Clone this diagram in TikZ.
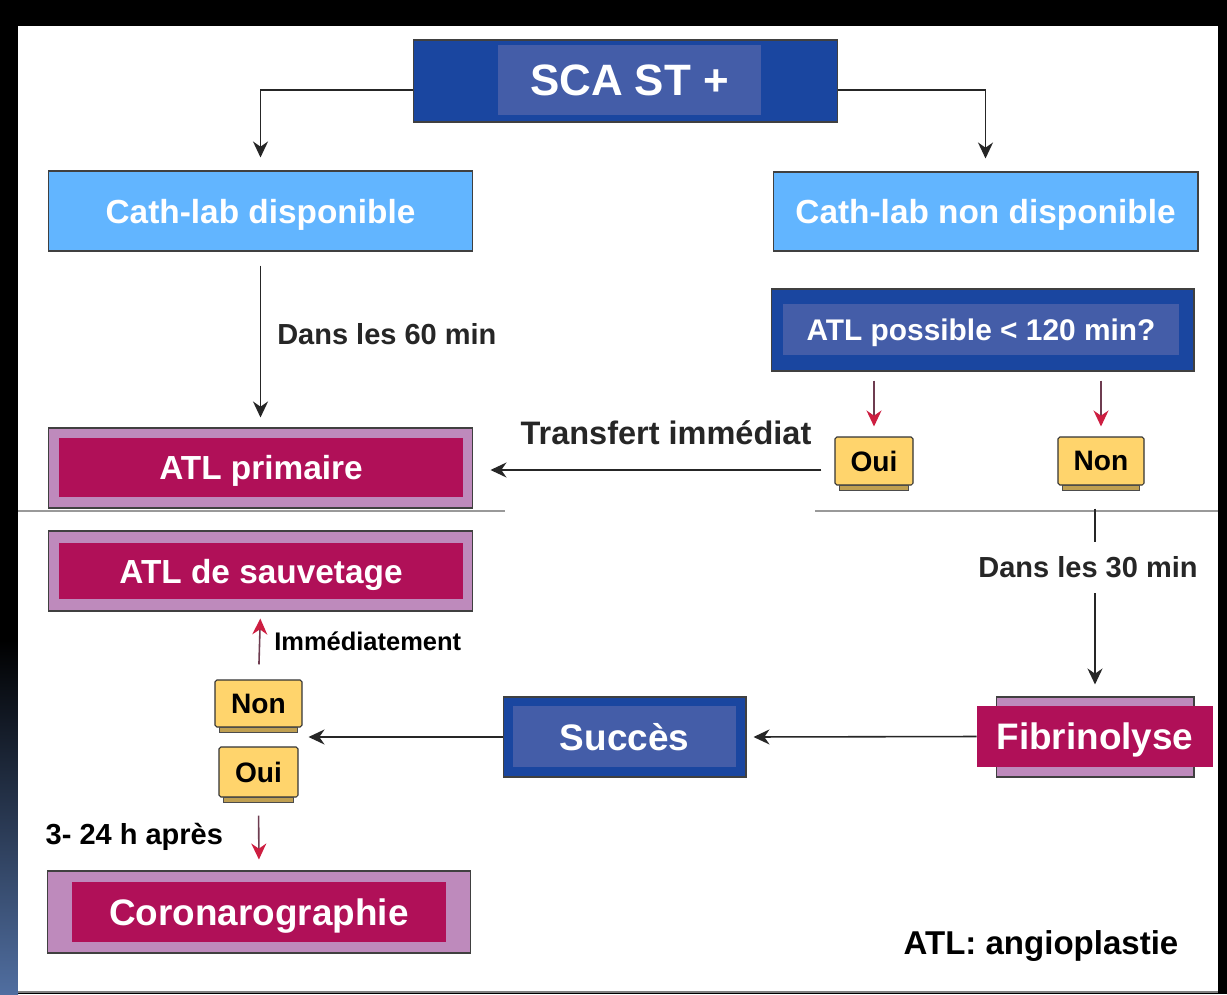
\documentclass[tikz,border=0pt]{standalone}
\usepackage{fontspec}
\setmainfont{Liberation Sans}
\usetikzlibrary{arrows.meta}
\definecolor{navyout}{RGB}{26,70,160}
\definecolor{navyin}{RGB}{68,93,168}
\definecolor{skyfill}{RGB}{98,181,255}
\definecolor{lilac}{RGB}{190,138,188}
\definecolor{berry}{RGB}{176,16,88}
\definecolor{cheese}{RGB}{255,212,108}
\definecolor{tipred}{RGB}{205,30,65}
\definecolor{shaftred}{RGB}{110,60,80}
\definecolor{leftblue}{RGB}{80,110,160}
\newcommand{\fsz}[1]{\fontsize{#1}{#1}\selectfont}

\begin{document}
\begin{tikzpicture}[x=0.02cm, y=-0.02cm]
        \tikzstyle{every node}=[font=\bfseries, inner sep=0pt, text depth=0pt]
        \tikzstyle{outbox}=[draw=black!75, line width=0.6pt]
        \tikzstyle{navyouter}=[outbox, fill=navyout]
        \tikzstyle{navyinner}=[fill=navyin, text=white]
        \tikzstyle{skybox}=[outbox, fill=skyfill, text=white, font=\bfseries\fsz{19}]
        \tikzstyle{lilacbox}=[outbox, fill=lilac]
        \tikzstyle{berrybox}=[fill=berry, text=white]
        \tikzstyle{cheesebox}=[draw=black!80, fill=cheese, line width=0.6pt, rounded corners=1pt, font=\bfseries\fsz{16}]
        \tikzstyle{arr}=[-{Stealth[length=0.32cm, width=0.3cm]}, line width=0.9pt, black!85]
        \tikzstyle{redarr}=[-{Stealth[length=0.32cm, width=0.3cm, color=tipred]}, line width=0.9pt, draw=shaftred]
        \tikzstyle{lbl}=[font=\bfseries\fsz{16.5}]

        \useasboundingbox (0,0) rectangle (1227,994);
        \fill[black] (0,0) rectangle (1227,994);
        \shade[top color=black, bottom color=leftblue] (0,640) rectangle (18,994);
        \fill[white] (18,26) rectangle (1218,991);
        \draw[gray, line width=0.8pt] (18,992) -- (1218,992);

        \node[navyouter, minimum width=8.5cm, minimum height=1.64cm] (ScaSt) at (625.5,81) {};
        \node[navyinner, minimum width=5.26cm, minimum height=1.4cm, font=\bfseries\fsz{25}] (ScaStText) at (629.5,80) {SCA ST +};

        \node[skybox, minimum width=8.5cm, minimum height=1.6cm] (CathLabDispo) at (260.5,211) {Cath-lab disponible};
        \node[skybox, minimum width=8.5cm, minimum height=1.58cm] (CathLabNonDispo) at (985.5,211.5) {Cath-lab non disponible};

        \node[navyouter, minimum width=8.46cm, minimum height=1.64cm] (AtlPossible) at (982.5,330) {};
        \node[navyinner, minimum width=7.92cm, minimum height=1.02cm, font=\bfseries\fsz{17}] (AtlPossibleText) at (981,329.5) {ATL possible < 120 min?};

        \node[cheesebox, minimum width=1.56cm, minimum height=0.96cm] (OuiTransfert) at (874,461) {Oui};
        \node[cheesebox, minimum width=1.72cm, minimum height=0.96cm] (NonTransfert) at (1101,461) {Non};
        \node[cheesebox, minimum width=1.74cm, minimum height=0.94cm] (NonSucces) at (258.5,703.5) {Non};
        \node[cheesebox, minimum width=1.58cm, minimum height=1.0cm] (OuiSucces) at (258.5,772) {Oui};
        \foreach \n in {OuiTransfert,NonTransfert,NonSucces,OuiSucces}
            \draw[fill=cheese!75!black, draw=black!70, line width=0.5pt] ([xshift=0.1cm]\n.south west) rectangle ([xshift=-0.1cm, yshift=-0.1cm]\n.south east);

        \node[lilacbox, minimum width=8.5cm, minimum height=1.6cm] (AtlPrimaire) at (260.5,468) {};
        \node[berrybox, minimum width=8.08cm, minimum height=1.18cm, font=\bfseries\fsz{19}] (AtlPrimaireText) at (261,467.5) {ATL primaire};
        \node[lilacbox, minimum width=8.5cm, minimum height=1.6cm] (AtlSauvetage) at (260.5,571) {};
        \node[berrybox, minimum width=8.08cm, minimum height=1.12cm, font=\bfseries\fsz{19}] (AtlSauvetageText) at (261,571) {ATL de sauvetage};
        \node[lilacbox, minimum width=8.48cm, minimum height=1.64cm] (Coronarographie) at (259,912) {};
        \node[berrybox, minimum width=7.48cm, minimum height=1.2cm, font=\bfseries\fsz{21}] (CoronarographieText) at (259,912) {Coronarographie};

        \node[navyouter, minimum width=4.86cm, minimum height=1.6cm] (Succes) at (624.5,737) {};
        \node[navyinner, minimum width=4.46cm, minimum height=1.22cm, font=\bfseries\fsz{21}] (SuccesText) at (624.5,736.5) {Succès};
        \node[lilacbox, minimum width=3.96cm, minimum height=1.6cm] (FibrinolyseBg) at (1095,737) {};
        \node[berrybox, minimum width=4.72cm, minimum height=1.22cm, font=\bfseries\fsz{21}] (Fibrinolyse) at (1095,736.5) {Fibrinolyse};

        \draw[gray!80, line width=0.6pt] (18,511) -- (505,511);
        \draw[gray!80, line width=0.6pt] (815,511) -- (1218,511);

        \draw[arr] ([yshift=-0.18cm]ScaSt.west) -| ([yshift=0.26cm]CathLabDispo.north);
        \draw[arr] ([yshift=-0.18cm]ScaSt.east) -| ([yshift=0.26cm]CathLabNonDispo.north);
        \draw[arr, shorten <=0.28cm, shorten >=0.2cm] (CathLabDispo) -- node[right=0.32cm, yshift=0.12cm, lbl] (Dans60) {Dans les 60 min} (AtlPrimaire);
        \draw[redarr] ([yshift=-0.18cm]AtlPossible.south -| OuiTransfert.north) -- ([yshift=0.2cm]OuiTransfert.north);
        \draw[redarr] ([yshift=-0.18cm]AtlPossible.south -| NonTransfert.north) -- ([yshift=0.2cm]NonTransfert.north);
        \draw[arr, shorten <=0.26cm, shorten >=0.34cm] ([yshift=-0.18cm]OuiTransfert.west) -- node[above=0.5cm, xshift=0.24cm, font=\bfseries\fsz{18.5}] (Transfert) {Transfert immédiat} ([yshift=-0.18cm]OuiTransfert.west -| AtlPrimaire.east);
        \draw[arr, shorten <=0.46cm, shorten >=0.24cm] (NonTransfert.south -| Fibrinolyse.north) -- node[pos=0.387, xshift=-0.14cm, fill=white, inner xsep=2pt, inner ysep=0.3cm, lbl] (Dans30) {Dans les 30 min} (FibrinolyseBg.north);
        \draw[arr, shorten >=0.14cm] (Fibrinolyse.west) -- (Succes.east);
        \draw[arr, shorten >=0.12cm] (Succes.west) -- (Succes.west -| NonSucces.east);
        \draw[redarr, shorten <=0.3cm, shorten >=0.14cm] (NonSucces.north) -- node[right=0.28cm, yshift=0.09cm, font=\bfseries\fsz{14.5}] (Immediat) {Immédiatement} (AtlSauvetage.south);
        \draw[redarr, shorten <=0.36cm, shorten >=0.22cm] (OuiSucces.south) -- node[left=0.7cm, lbl] (Apres) {3- 24 h après} (Coronarographie.north);

        \node[font=\bfseries\fsz{18.8}] (Legende) at (1041,943) {ATL: angioplastie};
\end{tikzpicture}
\end{document}
